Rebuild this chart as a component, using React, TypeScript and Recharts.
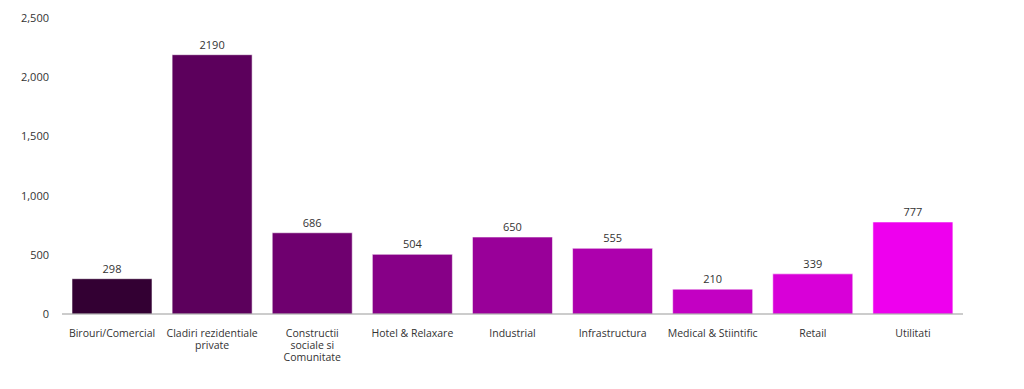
import { BarChart, Bar, XAxis, YAxis, LabelList, Cell } from 'recharts';

// line breaks follow the reference's wrapped labels
const categories = [
  'Birouri/Comercial',
  'Cladiri rezidentiale\nprivate',
  'Constructii\nsociale si\nComunitate',
  'Hotel & Relaxare',
  'Industrial',
  'Infrastructura',
  'Medical & Stiintific',
  'Retail',
  'Utilitati',
];
const values = [298, 2190, 686, 504, 650, 555, 210, 339, 777];
const colors = ['#330033', '#5c005c', '#6f006f', '#870087', '#990099', '#ad00ad', '#c300c3', '#d800d8', '#ee00ee'];
const yTicks = [0, 500, 1000, 1500, 2000, 2500];

const data = categories.map((name, i) => ({ name, value: values[i] }));

const font = '"Open Sans", sans-serif';

const CategoryTick = ({ x, y, payload }: any) => (
  <text x={x} y={y} textAnchor="middle" fontSize={10.5} fontFamily={font} fill="#333">
    {String(payload.value).split('\n').map((line, i) => (
      <tspan key={i} x={x} dy={i === 0 ? '0.71em' : 12}>
        {line}
      </tspan>
    ))}
  </text>
);

export default function App() {
  return (
    <div style={{ position: 'absolute', left: 0, top: 0, width: 1024, height: 389, background: '#fff' }}>
      <BarChart
        width={1024}
        height={389}
        data={data}
        margin={{ top: 18, right: 61, left: 0, bottom: 15 }}
        barCategoryGap="10%"
      >
        <XAxis
          dataKey="name"
          interval={0}
          height={60}
          tickLine={false}
          axisLine={{ stroke: '#999' }}
          tickMargin={10}
          tick={<CategoryTick />}
        />
        <YAxis
          width={62}
          domain={[0, 2500]}
          ticks={yTicks}
          axisLine={false}
          tickLine={false}
          tickMargin={7}
          tick={{ fontSize: 11, fill: '#333', fontFamily: font }}
          tickFormatter={(v: number) => v.toLocaleString('en-US')}
        />
        <Bar dataKey="value" isAnimationActive={false} stroke="rgba(255,255,255,0.55)" strokeWidth={1}>
          {data.map((d, i) => (
            <Cell key={d.name} fill={colors[i]} />
          ))}
          <LabelList dataKey="value" position="top" offset={6} fontSize={11} fill="#333" fontFamily={font} />
        </Bar>
      </BarChart>
    </div>
  );
}
